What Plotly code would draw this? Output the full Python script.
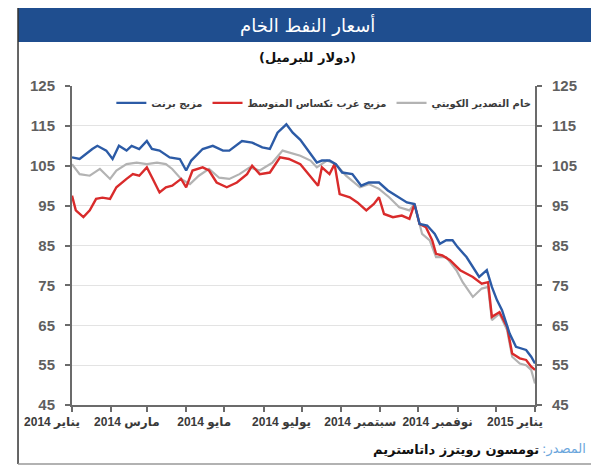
import plotly.graph_objects as go

# ---------------- data ----------------
brent_dates = ["2014-01-01","2014-01-07","2014-01-17","2014-01-21","2014-01-28","2014-02-02","2014-02-07",
               "2014-02-13","2014-02-17","2014-02-23","2014-03-01","2014-03-05","2014-03-11","2014-03-19",
               "2014-03-27","2014-04-01","2014-04-05","2014-04-14","2014-04-22","2014-04-30","2014-05-05",
               "2014-05-15","2014-05-23","2014-05-31","2014-06-06","2014-06-12","2014-06-19","2014-06-24",
               "2014-06-30","2014-07-08","2014-07-13","2014-07-17","2014-07-23","2014-07-28","2014-08-02",
               "2014-08-10","2014-08-17","2014-08-23","2014-08-31","2014-09-07","2014-09-15","2014-09-22",
               "2014-09-28","2014-10-02","2014-10-08","2014-10-14","2014-10-18","2014-10-23","2014-10-28",
               "2014-11-01","2014-11-08","2014-11-13","2014-11-18","2014-11-24","2014-11-28","2014-12-02",
               "2014-12-06","2014-12-12","2014-12-17","2014-12-25","2014-12-29","2015-01-01"]
brent_values = [107.1,106.7,109.2,110.0,108.8,106.7,110.0,
                108.8,110.0,109.2,111.2,109.2,108.8,107.1,
                106.7,103.8,106.3,109.2,110.0,108.8,108.8,
                111.2,110.8,109.6,109.2,113.3,115.4,113.3,
                111.5,107.9,105.8,106.3,106.3,105.4,103.3,
                102.9,100.0,100.8,100.8,98.8,97.1,95.8,
                95.4,90.4,90.0,87.9,85.4,86.3,86.3,
                84.6,82.1,79.6,77.1,78.8,74.6,71.3,
                68.8,62.9,59.6,58.8,57.1,55.4]

wti_dates = ["2014-01-01","2014-01-04","2014-01-10","2014-01-15","2014-01-20","2014-01-25","2014-01-31",
             "2014-02-05","2014-02-13","2014-02-18","2014-02-23","2014-03-01","2014-03-05","2014-03-11",
             "2014-03-16","2014-03-21","2014-03-28","2014-04-01","2014-04-06","2014-04-14","2014-04-19",
             "2014-04-25","2014-05-03","2014-05-11","2014-05-19","2014-05-23","2014-05-29","2014-06-06",
             "2014-06-14","2014-06-21","2014-06-30","2014-07-07","2014-07-14","2014-07-17","2014-07-23",
             "2014-07-27","2014-07-31","2014-08-08","2014-08-14","2014-08-21","2014-08-27","2014-08-31",
             "2014-09-04","2014-09-11","2014-09-18","2014-09-24","2014-09-28","2014-10-02","2014-10-07",
             "2014-10-12","2014-10-15","2014-10-20","2014-10-26","2014-11-03","2014-11-08","2014-11-13",
             "2014-11-20","2014-11-25","2014-11-28","2014-12-04","2014-12-10","2014-12-14","2014-12-20",
             "2014-12-25","2014-12-29","2015-01-01"]
wti_values = [97.5,93.8,92.1,93.8,96.7,97.0,96.7,
              99.6,101.7,102.9,102.5,104.6,102.1,98.3,
              99.6,100.0,101.7,99.6,103.8,104.6,103.8,
              100.8,99.6,100.8,102.9,105.0,102.9,103.3,
              107.1,106.7,105.4,102.7,100.0,104.6,102.9,
              105.4,97.9,97.1,95.8,93.8,95.4,97.1,
              92.9,92.1,92.5,91.7,95.4,90.4,89.6,
              86.3,82.9,82.5,81.3,78.8,77.9,77.1,
              75.4,75.8,67.1,68.3,64.6,57.9,56.7,
              56.3,54.6,53.8]

kuwait_dates = ["2014-01-01","2014-01-07","2014-01-15","2014-01-23","2014-01-31","2014-02-05","2014-02-13",
                "2014-02-21","2014-03-01","2014-03-09","2014-03-16","2014-03-21","2014-03-28","2014-04-04",
                "2014-04-11","2014-04-19","2014-04-27","2014-05-05","2014-05-13","2014-05-21","2014-05-29",
                "2014-06-08","2014-06-16","2014-06-21","2014-06-30","2014-07-08","2014-07-13","2014-07-21",
                "2014-07-28","2014-08-05","2014-08-16","2014-08-23","2014-08-31","2014-09-08","2014-09-16",
                "2014-09-24","2014-09-28","2014-10-04","2014-10-10","2014-10-15","2014-10-23","2014-10-31",
                "2014-11-05","2014-11-13","2014-11-20","2014-11-25","2014-11-28","2014-12-04","2014-12-10",
                "2014-12-14","2014-12-20","2014-12-25","2014-12-29","2015-01-01"]
kuwait_values = [105.4,102.9,102.5,104.2,101.7,103.8,105.4,
                 105.8,105.4,105.8,105.4,104.2,101.7,100.4,
                 102.5,104.2,102.0,101.7,102.9,104.6,103.8,
                 105.8,108.8,108.3,107.5,106.3,104.6,106.3,
                 105.4,102.5,99.6,100.4,99.2,97.1,94.6,
                 93.8,95.4,87.9,86.3,82.1,82.1,78.8,
                 75.8,72.1,74.2,74.6,66.3,67.9,63.8,
                 57.1,55.4,55.0,53.8,50.4]

series_names = ["مزيج برنت", "مزيج غرب تكساس المتوسط", "خام التصدير الكويتي"]
series_colors = ["#2c5ba6", "#d92b2b", "#b3b3b3"]

month_ticks = ["2014-01-01","2014-02-01","2014-03-01","2014-04-01","2014-05-01","2014-06-01","2014-07-01",
               "2014-08-01","2014-09-01","2014-10-01","2014-11-01","2014-12-01","2015-01-01"]
month_labels = ["يناير 2014","","مارس 2014","","مايو 2014","","يوليو 2014",
                "","سبتمبر 2014","","نوفمبر 2014","","يناير 2015"]
y_ticks = [45, 55, 65, 75, 85, 95, 105, 115, 125]

title_text = "أسعار النفط الخام"
subtitle_text = "(دولار للبرميل)"
source_label = "المصدر:\u200f"
source_text = "تومسون رويترز داتاستريم"

# ---------------- figure ----------------
fig = go.Figure()
for d, v, name, col, w in [
    (kuwait_dates, kuwait_values, series_names[2], series_colors[2], 2.2),
    (wti_dates, wti_values, series_names[1], series_colors[1], 2.4),
    (brent_dates, brent_values, series_names[0], series_colors[0], 2.4),
]:
    fig.add_trace(go.Scatter(x=d, y=v, mode="lines", name=name,
                             line=dict(color=col, width=w), hoverinfo="skip"))

# dummy trace to register the right-hand axis
fig.add_trace(go.Scatter(x=[month_ticks[0]], y=[None], yaxis="y2", showlegend=False,
                         mode="lines", hoverinfo="skip"))

num_font = "Liberation Sans, Arial, DejaVu Sans"
ar_font = "DejaVu Sans, Noto Sans, sans-serif"

axis_y = dict(range=[45, 125], tickvals=y_ticks, ticks="outside", ticklen=5, tickwidth=1.5,
              tickcolor="#6b6b6b", showline=True, linecolor="#6b6b6b", linewidth=2,
              zeroline=False, ticklabelstandoff=7,
              tickfont=dict(family=num_font, size=15, color="#5f5f5f", weight="bold"))

fig.update_layout(
    width=591, height=467,
    margin=dict(l=72, r=56, t=86, b=62),
    paper_bgcolor="white", plot_bgcolor="white",
    showlegend=True,
    legend=dict(orientation="h", x=0.085, y=0.947, xanchor="left", yanchor="middle",
                traceorder="reversed", bgcolor="rgba(0,0,0,0)",
                font=dict(family=ar_font, size=10, color="#3a3a3a", weight="bold"), itemwidth=30),
    xaxis=dict(range=["2014-01-01", "2015-01-01"], tickvals=month_ticks, ticktext=month_labels,
               ticks="outside", ticklen=5, tickwidth=1.5, tickcolor="#6b6b6b",
               showline=True, linecolor="#6b6b6b", linewidth=2, showgrid=False, zeroline=False,
               tickangle=0, ticklabelshift=-20,
               tickfont=dict(family=num_font, size=12, color="#3a3a3a", weight="bold")),
    yaxis=dict(**axis_y, side="left", showgrid=True, gridcolor="#e3e3e3", gridwidth=1),
    yaxis2=dict(**axis_y, side="right", overlaying="y", showgrid=False),
)

# title bar and frame
fig.add_shape(type="rect", xref="paper", yref="paper", x0=-0.1166, x1=1.125, y0=1.138, y1=1.2445,
              fillcolor="#1f4e8f", line=dict(width=0), layer="below")
fig.add_shape(type="line", xref="paper", yref="paper", x0=-0.1166, x1=-0.1166, y0=-0.185, y1=1.2445,
              line=dict(color="#333", width=1.5))
fig.add_shape(type="line", xref="paper", yref="paper", x0=-0.1166, x1=1.125, y0=-0.185, y1=-0.185,
              line=dict(color="#999", width=1.5))

fig.add_annotation(text=title_text, xref="paper", yref="paper", x=0.5076, y=1.191,
                   xanchor="center", yanchor="middle",
                   showarrow=False, font=dict(family=ar_font, size=18, color="white"))
fig.add_annotation(text=subtitle_text, xref="paper", yref="paper", x=0.5076, y=1.088,
                   xanchor="center", yanchor="middle",
                   showarrow=False, font=dict(family=ar_font, size=13, color="#111", weight="bold"))
fig.add_annotation(text=source_label, xref="paper", yref="paper", x=1.1145, y=-0.138,
                   xanchor="right", yanchor="middle", showarrow=False,
                   font=dict(family=ar_font, size=13, color="#6aa6dc"))
fig.add_annotation(text=source_text, xref="paper", yref="paper", x=1.012, y=-0.138,
                   xanchor="right", yanchor="middle", showarrow=False,
                   font=dict(family=ar_font, size=13, color="#111", weight="bold"))

fig.write_html("out.html", config={"displayModeBar": False},
               post_script="document.body.style.margin='0px';")
